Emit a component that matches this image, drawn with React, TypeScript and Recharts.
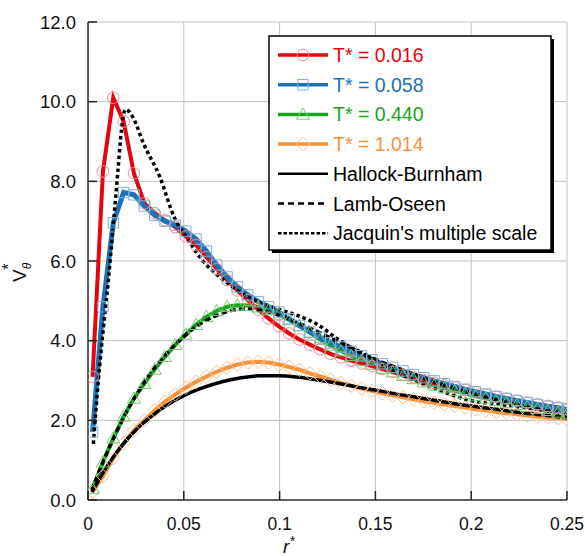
import { LineChart, Line, XAxis, YAxis, CartesianGrid } from 'recharts'

const FONT = '"Liberation Sans", Arial, sans-serif'

// radial positions of the measured profiles (r*)
const rGrid = [
  0.0024, 0.0078, 0.0132, 0.0186, 0.024, 0.0294, 0.0348, 0.0402, 0.0456, 0.051,
  0.0564, 0.0618, 0.0672, 0.0726, 0.078, 0.0834, 0.0888, 0.0942, 0.0996, 0.105,
  0.1104, 0.1158, 0.1212, 0.1266, 0.132, 0.1374, 0.1428, 0.1482, 0.1536, 0.159,
  0.1644, 0.1698, 0.1752, 0.1806, 0.186, 0.1914, 0.1968, 0.2022, 0.2076, 0.213,
  0.2184, 0.2238, 0.2292, 0.2346, 0.24, 0.2454, 0.25,
]

const vT016 = [
  3.09, 8.25, 10.1, 9.5, 8.2, 7.45, 7.2, 7.02, 6.85, 6.62,
  6.4, 6.1, 5.8, 5.52, 5.26, 5.02, 4.78, 4.56, 4.36, 4.18,
  4.03, 3.9, 3.78, 3.67, 3.58, 3.5, 3.43, 3.36, 3.29, 3.22,
  3.15, 3.08, 3.01, 2.94, 2.88, 2.82, 2.76, 2.7, 2.64, 2.59,
  2.54, 2.49, 2.44, 2.4, 2.36, 2.32, 2.28,
]
const vT058 = [
  1.71, 4.85, 6.96, 7.72, 7.66, 7.38, 7.15, 7.0, 6.9, 6.75,
  6.55, 6.25, 5.9, 5.6, 5.35, 5.15, 4.98, 4.85, 4.72, 4.55,
  4.38, 4.22, 4.08, 3.95, 3.84, 3.73, 3.62, 3.52, 3.42, 3.33,
  3.24, 3.15, 3.07, 2.99, 2.92, 2.85, 2.78, 2.72, 2.66, 2.6,
  2.55, 2.5, 2.45, 2.4, 2.35, 2.31, 2.27,
]
const vT440 = [
  0.28, 0.95, 1.55, 2.1, 2.55, 2.92, 3.28, 3.6, 3.9, 4.16,
  4.4, 4.6, 4.75, 4.85, 4.89, 4.88, 4.84, 4.77, 4.66, 4.52,
  4.37, 4.2, 4.03, 3.88, 3.74, 3.62, 3.5, 3.4, 3.3, 3.21,
  3.12, 3.04, 2.96, 2.88, 2.81, 2.74, 2.67, 2.61, 2.55, 2.49,
  2.44, 2.39, 2.34, 2.29, 2.24, 2.2, 2.16,
]
const vT1014 = [
  0.2, 0.6, 1.05, 1.42, 1.75, 2.0, 2.25, 2.47, 2.65, 2.82,
  2.97, 3.1, 3.22, 3.32, 3.4, 3.45, 3.47, 3.45, 3.4, 3.34,
  3.27, 3.18, 3.1, 3.02, 2.94, 2.87, 2.8, 2.74, 2.68, 2.63,
  2.58, 2.53, 2.48, 2.44, 2.4, 2.36, 2.32, 2.28, 2.25, 2.21,
  2.18, 2.15, 2.12, 2.09, 2.07, 2.05, 2.03,
]

// model curves
const hbR = [
  0.002, 0.005, 0.01, 0.015, 0.02, 0.025, 0.03, 0.035, 0.04, 0.045, 0.05, 0.06, 0.07, 0.08, 0.09, 0.1,
  0.11, 0.12, 0.13, 0.14, 0.15, 0.16, 0.17, 0.18, 0.19, 0.2, 0.21, 0.22, 0.23, 0.24, 0.25,
]
const hbV = [
  0.2, 0.45, 0.85, 1.2, 1.5, 1.76, 1.98, 2.17, 2.34, 2.49, 2.62, 2.82, 2.97, 3.07, 3.12, 3.12,
  3.08, 3.01, 2.93, 2.84, 2.76, 2.67, 2.59, 2.51, 2.43, 2.36, 2.3, 2.23, 2.17, 2.12, 2.06,
]
const loR = [
  0.002, 0.005, 0.01, 0.015, 0.02, 0.025, 0.03, 0.035, 0.04, 0.045, 0.05, 0.055, 0.06, 0.065, 0.07,
  0.075, 0.08, 0.085, 0.09, 0.095, 0.1, 0.11, 0.12, 0.13, 0.14, 0.15, 0.16, 0.17, 0.18, 0.19, 0.2,
  0.21, 0.22, 0.23, 0.24, 0.25,
]
const loV = [
  0.25, 0.62, 1.2, 1.72, 2.2, 2.62, 3.0, 3.33, 3.62, 3.88, 4.1, 4.3, 4.46, 4.59, 4.69,
  4.76, 4.79, 4.79, 4.76, 4.71, 4.63, 4.44, 4.22, 3.99, 3.77, 3.53, 3.34, 3.16, 2.98, 2.82, 2.68,
  2.55, 2.44, 2.33, 2.23, 2.14,
]
const jqR = [
  0.0028, 0.0054, 0.008, 0.0106, 0.013, 0.0155, 0.0175, 0.0195, 0.022, 0.0245, 0.0289, 0.0376, 0.045,
  0.05, 0.06, 0.07, 0.08, 0.09, 0.1, 0.11, 0.12, 0.13, 0.14, 0.15, 0.163, 0.18, 0.1976, 0.22, 0.25,
]
const jqV = [
  1.41, 3.0, 4.3, 5.5, 6.8, 8.2, 9.3, 9.8, 9.72, 9.5, 8.96, 8.1, 7.1,
  6.7, 6.0, 5.55, 5.2, 4.95, 4.78, 4.62, 4.4, 4.05, 3.75, 3.5, 3.17, 2.82, 2.52, 2.37, 2.18,
]

const xTicks = [0, 0.05, 0.1, 0.15, 0.2, 0.25]
const yTicks = [0, 2, 4, 6, 8, 10, 12]

const RED = '#e2060e'
const BLUE = '#1c72b5'
const GREEN = '#18a418'
const ORANGE = '#f7923a'
const RED_M = '#f08888'
const BLUE_M = '#7fb0dc'
const GREEN_M = '#70cf70'
const ORANGE_M = '#ffbf8c'
const TICK = '#222'

const pts = (rs: number[], vs: number[]) => rs.map((r, i) => ({ r, v: vs[i] }))

function shapePath(shape: string, cx: number, cy: number) {
  const s = 5.2
  if (shape === 'square') return `M${cx - s},${cy - s}h${2 * s}v${2 * s}h${-2 * s}Z`
  if (shape === 'triangle') return `M${cx},${cy - 6.5}L${cx + 6.5},${cy + 4.8}L${cx - 6.5},${cy + 4.8}Z`
  if (shape === 'diamond') return `M${cx},${cy - 6.8}L${cx + 6.8},${cy}L${cx},${cy + 6.8}L${cx - 6.8},${cy}Z`
  return `M${cx - 5.8},${cy}a5.8,5.8 0 1,0 11.6,0a5.8,5.8 0 1,0 -11.6,0`
}

const marker = (shape: string, color: string) => (p: any) => {
  const { cx, cy, index } = p
  if (cx == null || cy == null) return <g key={`${shape}-${index}`} />
  return <path key={`${shape}-${index}`} d={shapePath(shape, cx, cy)} fill="none" stroke={color} strokeWidth={1} />
}

// inward tick marks drawn together with the labels
const BottomTick = (p: any) => (
  <g>
    <line x1={p.x} x2={p.x} y1={p.y} y2={p.y - 9} stroke={TICK} strokeWidth={1.5} />
    <text x={p.x} y={p.y + 30} textAnchor="middle" fontSize={17.5} fill="#111" fontFamily={FONT}>
      {p.payload.value === 0 ? '0' : String(p.payload.value)}
    </text>
  </g>
)
const LeftTick = (p: any) => (
  <g>
    <line x1={p.x} x2={p.x + 9} y1={p.y} y2={p.y} stroke={TICK} strokeWidth={1.5} />
    <text x={p.x - 12} y={p.y + 6.7} textAnchor="end" fontSize={18.5} fill="#111" fontFamily={FONT}>
      {Number(p.payload.value).toFixed(1)}
    </text>
  </g>
)
const TopTick = (p: any) => <line x1={p.x} x2={p.x} y1={p.y} y2={p.y + 9} stroke={TICK} strokeWidth={1.5} />
const RightTick = (p: any) => <line x1={p.x} x2={p.x - 9} y1={p.y} y2={p.y} stroke={TICK} strokeWidth={1.5} />

const legendRows = [
  { label: 'T* = 0.016', color: RED, width: 3.5, dash: '', shape: 'circle', mcolor: RED_M },
  { label: 'T* = 0.058', color: BLUE, width: 3.5, dash: '', shape: 'square', mcolor: BLUE_M },
  { label: 'T* = 0.440', color: GREEN, width: 3.5, dash: '', shape: 'triangle', mcolor: GREEN_M },
  { label: 'T* = 1.014', color: ORANGE, width: 3.5, dash: '', shape: 'diamond', mcolor: ORANGE_M },
  { label: 'Hallock-Burnham', color: '#000', width: 2.5, dash: '', shape: '', mcolor: '' },
  { label: 'Lamb-Oseen', color: '#000', width: 2.5, dash: '6 4', shape: '', mcolor: '' },
  { label: "Jacquin's multiple scale", color: '#000', width: 2.5, dash: '3.5 2', shape: '', mcolor: '' },
]

export default function App() {
  const axisLine = { stroke: '#333', strokeWidth: 1.5 }
  return (
    <div style={{ position: 'absolute', left: 0, top: 0, width: 585, height: 556, fontFamily: FONT, background: '#fff' }}>
      <LineChart width={585} height={556} margin={{ top: 22, right: 18, bottom: 0, left: 0 }}>
        <CartesianGrid stroke="#c2c2c2" strokeWidth={1} />
        <XAxis type="number" dataKey="r" domain={[0, 0.25]} ticks={xTicks} interval={0} allowDataOverflow height={56}
          tickSize={0} tickMargin={0} axisLine={axisLine} tickLine={false} tick={BottomTick} />
        <XAxis xAxisId="top" orientation="top" type="number" domain={[0, 0.25]} ticks={xTicks} interval={0} height={0}
          tickSize={0} tickMargin={0} axisLine={axisLine} tickLine={false} tick={TopTick} />
        <YAxis type="number" domain={[0, 12]} ticks={yTicks} interval={0} allowDataOverflow width={88}
          tickSize={0} tickMargin={0} axisLine={axisLine} tickLine={false} tick={LeftTick} />
        <YAxis yAxisId="right" orientation="right" type="number" domain={[0, 12]} ticks={yTicks} interval={0} width={0}
          tickSize={0} tickMargin={0} axisLine={axisLine} tickLine={false} tick={RightTick} />

        <Line data={pts(rGrid, vT1014)} dataKey="v" type="linear" stroke={ORANGE} strokeWidth={4} dot={marker('diamond', ORANGE_M)} isAnimationActive={false} />
        <Line data={pts(rGrid, vT440)} dataKey="v" type="linear" stroke={GREEN} strokeWidth={4} dot={marker('triangle', GREEN_M)} isAnimationActive={false} />
        <Line data={pts(rGrid, vT016)} dataKey="v" type="linear" stroke={RED} strokeWidth={4} dot={marker('circle', RED_M)} isAnimationActive={false} />
        <Line data={pts(rGrid, vT058)} dataKey="v" type="linear" stroke={BLUE} strokeWidth={5} dot={marker('square', BLUE_M)} isAnimationActive={false} />
        <Line data={pts(hbR, hbV)} dataKey="v" type="monotone" stroke="#000" strokeWidth={3.5} dot={false} isAnimationActive={false} />
        <Line data={pts(loR, loV)} dataKey="v" type="monotone" stroke="#000" strokeWidth={3.5} strokeDasharray="6 3" dot={false} isAnimationActive={false} />
        <Line data={pts(jqR, jqV)} dataKey="v" type="monotone" stroke="#000" strokeWidth={3.5} strokeDasharray="3.5 3" dot={false} isAnimationActive={false} />
      </LineChart>

      <svg width={585} height={556} style={{ position: 'absolute', left: 0, top: 0, pointerEvents: 'none' }}>
        <text x={26} y={282} transform="rotate(-90, 26, 282)" fontSize={19} fill="#111" fontFamily={FONT}>
          <tspan>V</tspan>
          <tspan fontSize={12} fontStyle="italic" dy={5}>θ</tspan>
          <tspan fontSize={16} dx={-7} dy={-17}>*</tspan>
        </text>
        <text x={283} y={553} fontSize={19} fontStyle="italic" fill="#111" fontFamily={FONT}>
          r<tspan fontSize={14} dy={-7}>*</tspan>
        </text>
      </svg>

      <svg width={290} height={222} style={{ position: 'absolute', left: 268, top: 35 }}>
        <rect x={4} y={4} width={282} height={214} fill="#000" />
        <rect x={1} y={1} width={282} height={214} fill="#fff" stroke="#000" strokeWidth={1.5} />
        {legendRows.map((row, i) => {
          const cy = 20 + i * 29.7
          return (
            <g key={row.label}>
              <line x1={10} x2={60} y1={cy} y2={cy} stroke={row.color} strokeWidth={row.width} strokeDasharray={row.dash || undefined} />
              {row.shape && <path d={shapePath(row.shape, 35, cy)} fill="none" stroke={row.mcolor} strokeWidth={1} />}
              <text x={65} y={cy} dominantBaseline="central" fontSize={19.5} fill={row.color} fontFamily={FONT}>
                {row.label}
              </text>
            </g>
          )
        })}
      </svg>
    </div>
  )
}
